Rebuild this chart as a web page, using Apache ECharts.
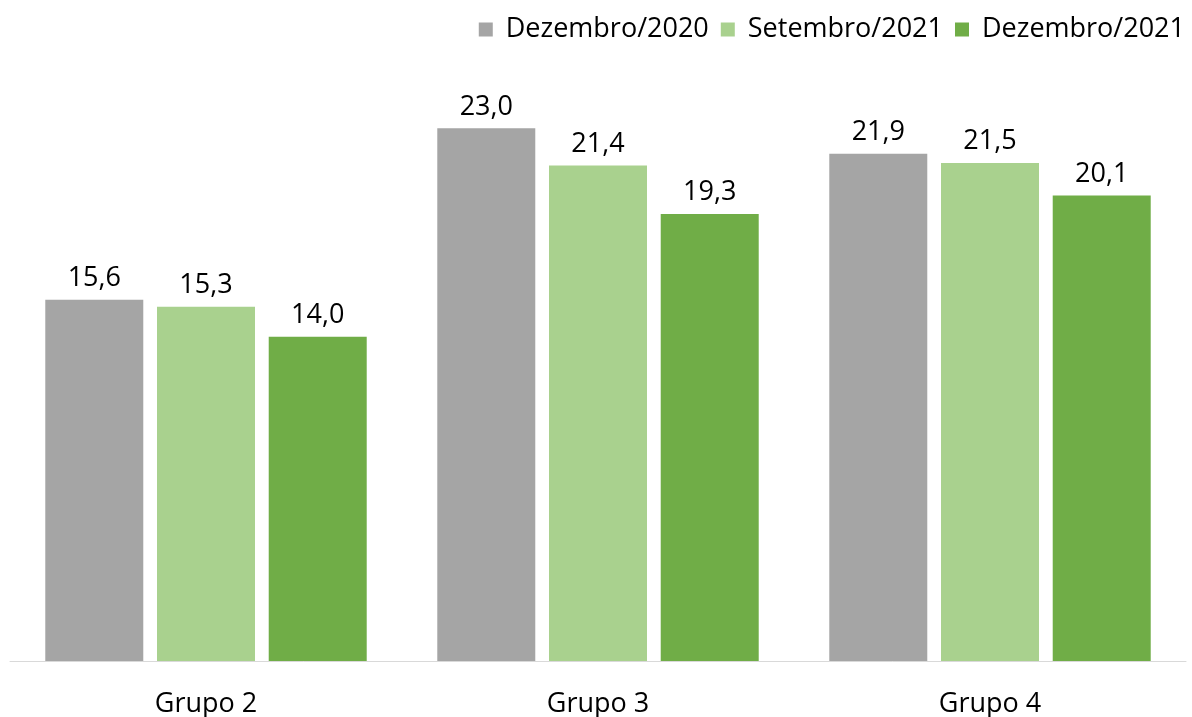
<!DOCTYPE html>
<html>
<head>
<meta charset="utf-8">
<script src="https://cdn.jsdelivr.net/npm/echarts@6/dist/echarts.min.js"></script>
<style>html,body{margin:0;padding:0;background:#fff}#c{width:1192px;height:717px}</style>
</head>
<body>
<div id="c"></div>
<script>
const categories = ['Grupo 2', 'Grupo 3', 'Grupo 4'];
const seriesNames = ['Dezembro/2020', 'Setembro/2021', 'Dezembro/2021'];
const dez2020 = [15.6, 23.0, 21.9];
const set2021 = [15.3, 21.4, 21.5];
const dez2021 = [14.0, 19.3, 20.1];
const colors = ['#a5a5a5', '#a9d18e', '#70ad47'];

const FONT = '"Open Sans", "Noto Sans", sans-serif';
const chart = echarts.init(document.getElementById('c'), null, {renderer: 'canvas'});
const data = [dez2020, set2021, dez2021];
chart.setOption({
  animation: false,
  textStyle: {fontFamily: FONT},
  legend: {
    right: 2, top: 11,
    itemWidth: 14, itemHeight: 14, itemGap: 12,
    icon: 'rect',
    textStyle: {fontFamily: FONT, fontSize: 27, color: '#000', padding: [0, 0, 0, 8]},
    data: seriesNames
  },
  grid: {left: 10, right: 6, top: 82, bottom: 56, containLabel: false, outerBoundsMode: 'none'},
  xAxis: {
    type: 'category', data: categories,
    axisLine: {lineStyle: {color: '#d9d9d9', width: 1}},
    axisTick: {show: false},
    axisLabel: {fontFamily: FONT, fontSize: 27, color: '#000', margin: 30}
  },
  yAxis: {type: 'value', min: 0, max: 25, show: false, splitLine: {show: false}},
  series: seriesNames.map((n, i) => ({
    name: n, type: 'bar', data: data[i],
    barWidth: 98, barGap: '14%', barCategoryGap: '18%',
    itemStyle: {color: colors[i]},
    label: {
      show: true, position: 'top', distance: 8,
      fontFamily: FONT, fontSize: 27, color: '#000',
      formatter: p => p.value.toFixed(1).replace('.', ',')
    }
  }))
});
</script>
</body>
</html>
